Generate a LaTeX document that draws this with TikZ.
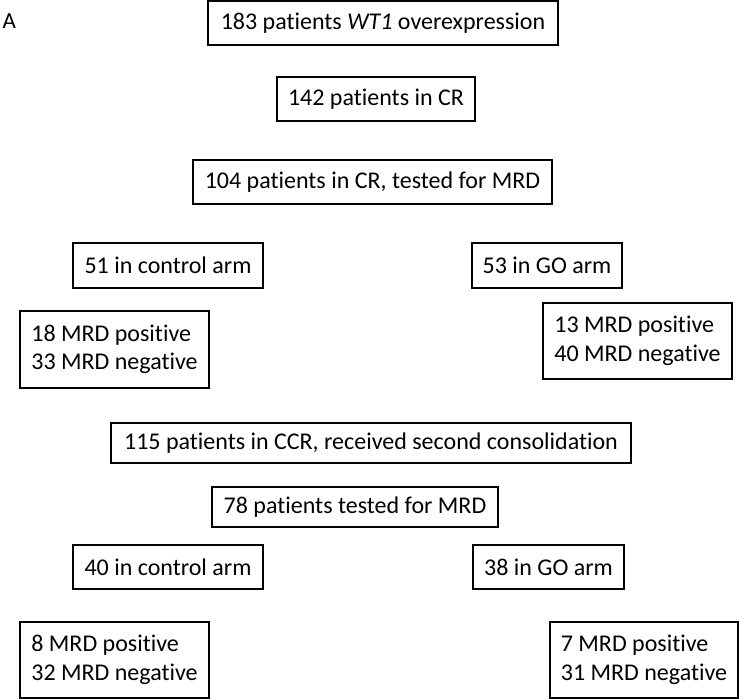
\documentclass[tikz,border=0pt]{standalone}
\usepackage{fontspec}
\setmainfont[Ligatures=NoCommon]{Carlito}
\begin{document}
\begin{tikzpicture}[x=1pt,y=1pt,
  box/.style={draw=black, line width=2.6pt, inner sep=0pt, font=\fontsize{24}{28.5}\selectfont},
  twoline/.style={box, align=left}]
\useasboundingbox (0,0) rectangle (739,-699);
\node[font=\fontsize{23}{24}\selectfont, anchor=west] (lbl) at (-1,-21) {A};
\node[box, minimum width=350, minimum height=44] (n183) at (383,-23) {183 patients \textit{WT1} overexpression};
\node[box, minimum width=198, minimum height=44] (n142) at (376,-99) {142 patients in CR};
\node[box, minimum width=359, minimum height=44] (n104) at (372.5,-182) {104 patients in CR, tested for MRD};
\node[box, minimum width=190, minimum height=45] (c51) at (168,-265.5) {51 in control arm};
\node[box, minimum width=150, minimum height=45] (g53) at (547,-265.5) {53 in GO arm};
\node[twoline, minimum width=189, minimum height=77] (m18) at (114.5,-349.5) {18 MRD positive\\33 MRD negative};
\node[twoline, minimum width=189, minimum height=76] (m13) at (637.5,-341) {13 MRD positive\\40 MRD negative};
\node[box, minimum width=520, minimum height=40] (n115) at (371,-443) {115 patients in CCR, received second consolidation};
\node[box, minimum width=286, minimum height=40] (n78) at (355,-507) {78 patients tested for MRD};
\node[box, minimum width=190, minimum height=44] (c40) at (168,-567) {40 in control arm};
\node[box, minimum width=151, minimum height=44] (g38) at (548.5,-567) {38 in GO arm};
\node[twoline, minimum width=189, minimum height=76] (m8) at (114.5,-660) {8 MRD positive\\32 MRD negative};
\node[twoline, minimum width=188, minimum height=76] (m7) at (644,-660) {7 MRD positive\\31 MRD negative};
\end{tikzpicture}
\end{document}
